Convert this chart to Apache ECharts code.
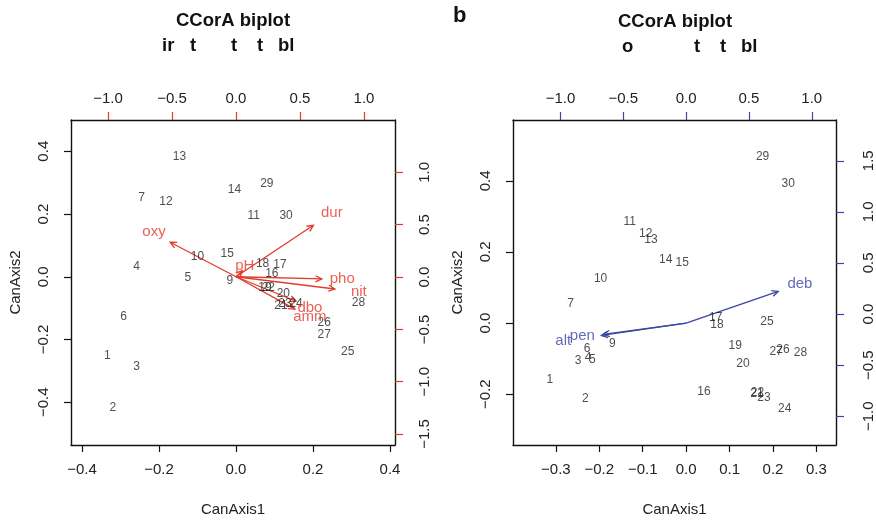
<!DOCTYPE html>
<html>
<head>
<meta charset="utf-8">
<script src="https://cdn.jsdelivr.net/npm/echarts@6/dist/echarts.min.js"></script>
<style>
  html, body { margin: 0; padding: 0; background: #fff; }
  #chart { width: 876px; height: 520px; }
</style>
</head>
<body>
<div id="chart"></div>
<script>
// site scores, panel a (CanAxis1, CanAxis2)
const sitesA = [
  ['1', -0.334, -0.251], ['2', -0.320, -0.418], ['3', -0.258, -0.288],
  ['4', -0.258, 0.031], ['5', -0.125, -0.004], ['6', -0.292, -0.128],
  ['7', -0.245, 0.251], ['9', -0.016, -0.011], ['10', -0.100, 0.064],
  ['11', 0.046, 0.196], ['12', -0.182, 0.238], ['13', -0.147, 0.382],
  ['14', -0.004, 0.276], ['15', -0.023, 0.072], ['16', 0.093, 0.009],
  ['17', 0.114, 0.040], ['18', 0.069, 0.043], ['19', 0.075, -0.035],
  ['20', 0.123, -0.053], ['21', 0.117, -0.093], ['22', 0.084, -0.035],
  ['23', 0.127, -0.085], ['24', 0.156, -0.087], ['25', 0.290, -0.240],
  ['26', 0.229, -0.147], ['27', 0.229, -0.183], ['28', 0.318, -0.082],
  ['29', 0.080, 0.295], ['30', 0.130, 0.193]
];

// site scores, panel b
const sitesB = [
  ['1', -0.314, -0.160], ['2', -0.232, -0.212], ['3', -0.249, -0.106],
  ['4', -0.226, -0.098], ['5', -0.216, -0.103], ['6', -0.228, -0.072],
  ['7', -0.266, 0.055], ['9', -0.170, -0.057], ['10', -0.197, 0.126],
  ['11', -0.130, 0.286], ['12', -0.093, 0.250], ['13', -0.081, 0.233],
  ['14', -0.047, 0.179], ['15', -0.009, 0.170], ['16', 0.041, -0.192],
  ['17', 0.068, 0.015], ['18', 0.071, -0.004], ['19', 0.113, -0.064],
  ['20', 0.131, -0.114], ['21', 0.163, -0.198], ['22', 0.164, -0.197],
  ['23', 0.179, -0.209], ['24', 0.227, -0.240], ['25', 0.186, 0.004],
  ['26', 0.223, -0.075], ['27', 0.207, -0.081], ['28', 0.263, -0.083],
  ['29', 0.176, 0.467], ['30', 0.235, 0.391]
];

// environmental arrows (tips) and where their names sit
const arrowsA = [
  ['oxy', -0.171, 0.110], ['dur', 0.201, 0.164], ['pH', 0.017, 0.019],
  ['pho', 0.223, -0.007], ['nit', 0.257, -0.039], ['dbo', 0.156, -0.078],
  ['amm', 0.153, -0.103]
];
const arrowLabelsA = [
  ['oxy', -0.213, 0.144], ['dur', 0.249, 0.202], ['pH', 0.023, 0.034],
  ['pho', 0.276, -0.006], ['nit', 0.319, -0.048], ['dbo', 0.192, -0.099],
  ['amm', 0.192, -0.127]
];
const arrowsB = [
  ['deb', 0.212, 0.089], ['alt', -0.195, -0.035], ['pen', -0.191, -0.032]
];
const arrowLabelsB = [
  ['deb', 0.262, 0.109], ['alt', -0.283, -0.051], ['pen', -0.239, -0.037]
];

// tick values
const ticksA1 = [-0.4, -0.2, 0, 0.2, 0.4];
const ticksA2 = [-0.4, -0.2, 0, 0.2, 0.4];
const ticksTop = [-1, -0.5, 0, 0.5, 1];
const ticksRightA = [-1.5, -1, -0.5, 0, 0.5, 1];
const ticksB1 = [-0.3, -0.2, -0.1, 0, 0.1, 0.2, 0.3];
const ticksB2 = [-0.2, 0, 0.2, 0.4];
const ticksRightB = [-1, -0.5, 0, 0.5, 1, 1.5];

const RED = '#e23a2a';
const BLUE = '#3b46a6';
const FONT = 'Liberation Sans';

const fmt = (v) => (v < 0 ? '\u2212' : '') + Math.abs(v).toFixed(1);

function arrowItem(color) {
  return function (params, api) {
    const p0 = api.coord([0, 0]);
    const p1 = api.coord([api.value(0), api.value(1)]);
    const ang = Math.atan2(p1[1] - p0[1], p1[0] - p0[0]);
    const h = 7, a = Math.PI / 7;
    const l = [p1[0] - h * Math.cos(ang - a), p1[1] - h * Math.sin(ang - a)];
    const r = [p1[0] - h * Math.cos(ang + a), p1[1] - h * Math.sin(ang + a)];
    return {
      type: 'group',
      children: [
        { type: 'line', shape: { x1: p0[0], y1: p0[1], x2: p1[0], y2: p1[1] }, style: { stroke: color, lineWidth: 1.3 } },
        { type: 'polyline', shape: { points: [l, p1, r] }, style: { stroke: color, fill: null, lineWidth: 1.3 } }
      ]
    };
  };
}

function mainAxis(gridIndex, pos, min, max, ticks, name, nameGap, margin, rotate) {
  return {
    type: 'value', gridIndex, position: pos, min, max,
    name, nameLocation: 'middle', nameGap,
    nameTextStyle: { fontFamily: FONT, fontSize: 15, color: '#222' },
    splitLine: { show: false },
    axisLine: { show: true, onZero: false, lineStyle: { color: '#111', width: 1.4 } },
    axisTick: { show: true, length: 7, customValues: ticks, lineStyle: { color: '#111', width: 1.2 } },
    axisLabel: { show: true, customValues: ticks, formatter: fmt, margin, rotate,
      fontFamily: FONT, fontSize: 15, color: '#222' }
  };
}

function secAxis(gridIndex, pos, min, max, ticks, color, margin, rotate) {
  return {
    type: 'value', gridIndex, position: pos, min, max,
    splitLine: { show: false },
    axisLine: { show: true, onZero: false, lineStyle: { color: '#111', width: 1.4 } },
    axisTick: { show: true, length: 8, customValues: ticks, lineStyle: { color, width: 1.2 } },
    axisLabel: { show: true, customValues: ticks, formatter: fmt, margin, rotate,
      fontFamily: FONT, fontSize: 15, color: '#222' }
  };
}

function siteSeries(data, xi, yi) {
  return {
    type: 'scatter', xAxisIndex: xi, yAxisIndex: yi, symbolSize: 0, silent: true,
    data: data.map(d => ({ name: d[0], value: [d[1], d[2]] })),
    label: { show: true, position: 'inside', formatter: '{b}',
      fontFamily: FONT, fontSize: 12, color: '#222' }
  };
}

function arrowSeries(data, xi, yi, color) {
  return {
    type: 'custom', xAxisIndex: xi, yAxisIndex: yi, silent: true,
    renderItem: arrowItem(color),
    data: data.map(d => [d[1], d[2], d[0]]),
    encode: { x: 0, y: 1 }
  };
}

function arrowLabelSeries(data, xi, yi, color) {
  return {
    type: 'scatter', xAxisIndex: xi, yAxisIndex: yi, symbolSize: 0, silent: true,
    data: data.map(d => ({ name: d[0], value: [d[1], d[2]] })),
    label: { show: true, position: 'inside', formatter: '{b}',
      fontFamily: FONT, fontSize: 15, color }
  };
}

const boldText = (x, y, text, size) => ({
  type: 'text', left: x, top: y,
  style: { text, fontFamily: FONT, fontSize: size, fontWeight: 'bold', fill: '#111' }
});

const chart = echarts.init(document.getElementById('chart'));

const option = {
  animation: false,
  backgroundColor: '#fff',
  grid: [
    { left: 71, top: 120, width: 324, height: 325, outerBoundsMode: 'none' },
    { left: 513, top: 120, width: 323, height: 325, outerBoundsMode: 'none' }
  ],
  xAxis: [
    mainAxis(0, 'bottom', -0.4286, 0.413, ticksA1, 'CanAxis1', 57, 17, 0),
    secAxis(0, 'top', -1.289, 1.242, ticksTop, RED, 14, 0),
    mainAxis(1, 'bottom', -0.3986, 0.345, ticksB1, 'CanAxis1', 57, 17, 0),
    secAxis(1, 'top', -1.378, 1.193, ticksTop, BLUE, 14, 0)
  ],
  yAxis: [
    mainAxis(0, 'left', -0.536, 0.4994, ticksA2, 'CanAxis2', 48, 20, 90),
    secAxis(0, 'right', -1.605, 1.50, ticksRightA, RED, 22, 90),
    mainAxis(1, 'left', -0.343, 0.571, ticksB2, 'CanAxis2', 48, 20, 90),
    secAxis(1, 'right', -1.282, 1.899, ticksRightB, BLUE, 25, 90)
  ],
  graphic: [
    boldText(453, 5, 'b', 22),
    boldText(176, 11, 'CCorA biplot', 18.5),
    boldText(618, 12, 'CCorA biplot', 18.5),
    boldText(162, 36, 'ir', 18.5),
    boldText(190, 36, 't', 18.5),
    boldText(231, 36, 't', 18.5),
    boldText(257, 36, 't', 18.5),
    boldText(278, 36, 'bl', 18.5),
    boldText(622, 37, 'o', 18.5),
    boldText(694, 37, 't', 18.5),
    boldText(720, 37, 't', 18.5),
    boldText(741, 37, 'bl', 18.5)
  ],
  series: [
    arrowSeries(arrowsA, 0, 0, RED),
    siteSeries(sitesA, 0, 0),
    arrowLabelSeries(arrowLabelsA, 0, 0, RED),
    arrowSeries(arrowsB, 2, 2, BLUE),
    siteSeries(sitesB, 2, 2),
    arrowLabelSeries(arrowLabelsB, 2, 2, BLUE)
  ]
};

option && chart.setOption(option);
</script>
</body>
</html>
